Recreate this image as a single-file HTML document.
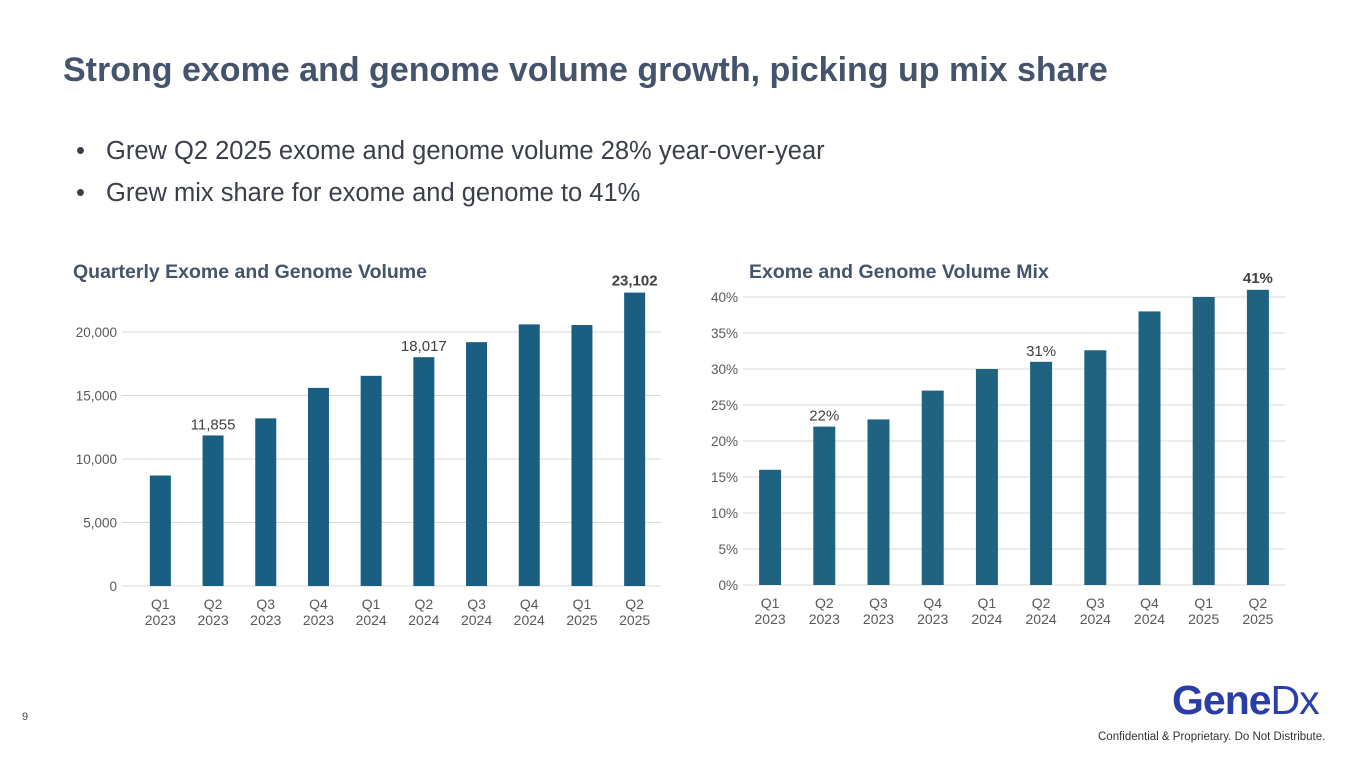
<!DOCTYPE html>
<html><head><meta charset="utf-8"><style>
body{margin:0;width:1365px;height:768px;background:#fff;font-family:"Liberation Sans",sans-serif;position:relative;overflow:hidden}
.t{position:absolute;white-space:nowrap}
.b{position:absolute;left:30px}
</style></head><body>
<div class="t" style="left:63px;top:51px;font-size:34px;font-weight:bold;color:#45546c">Strong exome and genome volume growth, picking up mix share</div>
<div class="t" style="left:76px;top:137px;font-size:25.5px;color:#3a3f4a">•<span class="b">Grew Q2 2025 exome and genome volume 28% year-over-year</span></div>
<div class="t" style="left:76px;top:179px;font-size:25.5px;color:#3a3f4a">•<span class="b">Grew mix share for exome and genome to 41%</span></div>
<svg id="c" width="1365" height="768" style="position:absolute;left:0;top:0"></svg>
<div class="t" style="left:22px;top:711px;font-size:11px;color:#444">9</div>
<div class="t" style="left:1172px;top:677px;font-size:41px;font-weight:bold;color:#2b3ea8;letter-spacing:-1px">Gene<span style="font-weight:normal">Dx</span></div>
<div class="t" style="left:1098px;top:731px;font-size:11.5px;color:#333">Confidential &amp; Proprietary. Do Not Distribute.</div>
<script>
const categories=["Q1|2023","Q2|2023","Q3|2023","Q4|2023","Q1|2024","Q2|2024","Q3|2024","Q4|2024","Q1|2025","Q2|2025"];
const volumeValues=[8700,11855,13200,15600,16550,18017,19200,20600,20550,23102];
const volumeTicks=[0,5000,10000,15000,20000];
const volumeLabels={1:"11,855",5:"18,017"};
const mixValues=[16,22,23,27,30,31,32.6,38,40,41];
const mixTicks=[0,5,10,15,20,25,30,35,40];
const mixLabels={1:"22%",5:"31%"};
const svg=document.getElementById('c');const NS="http://www.w3.org/2000/svg";
function mk(tag,a,txt){const e=document.createElementNS(NS,tag);for(const k in a)e.setAttribute(k,a[k]);if(txt!=null)e.textContent=txt;svg.appendChild(e);return e;}
function chart(o){
 const y=v=>o.y0-(v-0)/o.vmax*(o.y0-o.yTop);
 const band=(o.x1-o.x0)/categories.length;
 const x=i=>o.x0+band*(i+0.5);
 o.ticks.forEach(t=>{
  const g=mk('line',{x1:o.gx0,x2:o.x1,y1:y(t),y2:y(t),stroke:'#d9d9d9','stroke-width':1});
  
  
  const l=mk('text',{x:o.gx0-5,y:y(t)+5,'text-anchor':'end','font-size':13.5,fill:'#595959'},o.fmt(t));
  
  
 });
 o.vals.forEach((v,i)=>{
  const r=mk('rect',{x:x(i)-o.bw/2,y:y(v),width:o.bw,height:o.y0-y(v),fill:o.color});
  
  
  const [q,yr]=categories[i].split('|');
  const a=mk('text',{x:x(i),y:o.y0+23,'text-anchor':'middle','font-size':14,fill:'#595959'},q);
  
  
  const b=mk('text',{x:x(i),y:o.y0+39,'text-anchor':'middle','font-size':14,fill:'#595959'},yr);
  
  
  if(o.labels[i]){const d=mk('text',{x:x(i),y:y(v)-6,'text-anchor':'middle','font-size':15,fill:'#404040'},o.labels[i]);
   
   }
 });
 const last=o.vals.length-1;
 const d=mk('text',{x:x(last),y:y(o.vals[last])-7,'text-anchor':'middle','font-size':15,'font-weight':'bold',fill:'#404040'},o.lastFmt(o.vals[last]));
 
 
 const t=mk('text',{x:o.tx,y:278,'font-size':19.5,'font-weight':'bold',fill:'#45546c'},o.title);
 
 
}
chart({x0:134,x1:661,gx0:122,y0:586,yTop:332,vmax:20000,ticks:volumeTicks,vals:volumeValues,labels:volumeLabels,bw:21,color:'#1a5f82',
 fmt:t=>t.toLocaleString('en-US'),lastFmt:v=>v.toLocaleString('en-US'),title:'Quarterly Exome and Genome Volume',tx:73});
chart({x0:743,x1:1285,gx0:743,y0:585,yTop:297,vmax:40,ticks:mixTicks,vals:mixValues,labels:mixLabels,bw:22,color:'#1f6380',
 fmt:t=>t+'%',lastFmt:v=>Math.round(v)+'%',title:'Exome and Genome Volume Mix',tx:749});
</script>
</body></html>
